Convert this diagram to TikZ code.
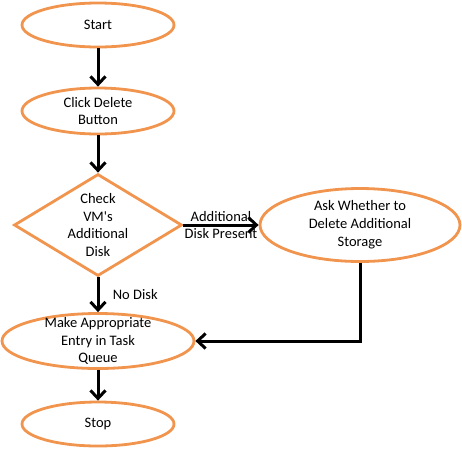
\documentclass[tikz,border=0pt]{standalone}
\usepackage{fontspec}
\setmainfont{Carlito}
\usetikzlibrary{arrows.meta, shapes.geometric}
\definecolor{flowOrange}{RGB}{240,148,78}
\tikzstyle{ovalblock} = [draw=flowOrange, line width=2.8pt, ellipse, inner sep=-14pt, align=center, font=\fontsize{14.5}{17.8}\selectfont]
\tikzstyle{decisionblock} = [draw=flowOrange, line width=2.8pt, diamond, inner sep=0pt, minimum width=168pt, minimum height=102pt]
\tikzstyle{flowarrow} = [line width=3pt, -{Straight Barb[length=8pt, width=15pt]}]

\begin{document}
\begin{tikzpicture}[x=1pt, y=-1pt, font=\fontsize{14.5}{17.8}\selectfont]
      \useasboundingbox (0,0) rectangle (462,448);
      \node[ovalblock, minimum width=152pt, minimum height=44pt] (start) at (98,25) {Start};
      \node[ovalblock, minimum width=152pt, minimum height=46pt] (click) at (98,111) {Click Delete\\Button};
      \node[decisionblock, label={[align=center]center:Check\\VM\textquotesingle s\\Additional\\Disk}] (check) at (98,225) {};
      \node[ovalblock, minimum width=200pt, minimum height=73pt] (ask) at (360,225) {Ask Whether to\\Delete Additional\\Storage};
      \node[ovalblock, minimum width=192pt, minimum height=55pt] (make) at (98,341) {Make Appropriate\\Entry in Task\\Queue};
      \node[ovalblock, minimum width=152pt, minimum height=44pt] (stop) at (98,424) {Stop};
      \draw[flowarrow] (start) -- (click);
      \draw[flowarrow] (click) -- (check);
      \draw[flowarrow] (check) -- node[align=center] {Additional\\Disk Present} (ask);
      \draw[flowarrow] (check) -- node[right=10pt] {No Disk} (make);
      \draw[flowarrow] (ask.south) |- (make.east);
      \draw[flowarrow] (make) -- (stop);
\end{tikzpicture}
\end{document}
